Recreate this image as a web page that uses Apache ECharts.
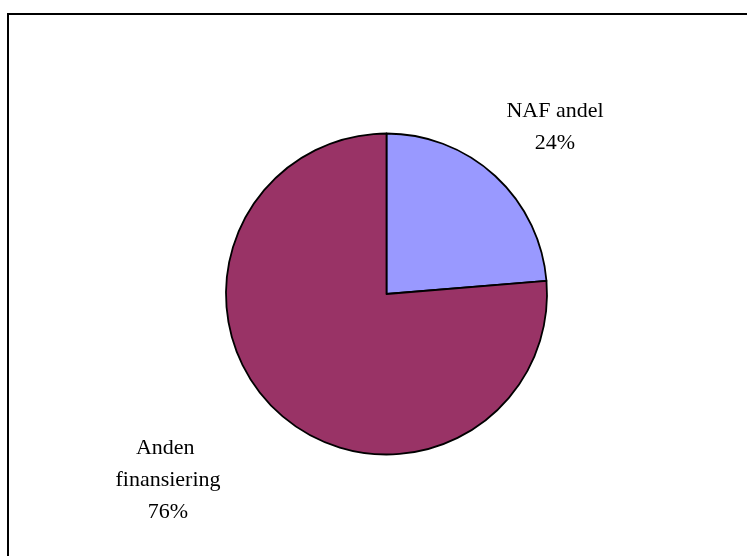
<!DOCTYPE html>
<html>
<head>
<meta charset="utf-8">
<script src="https://cdn.jsdelivr.net/npm/echarts@6/dist/echarts.min.js"></script>
<style>
  html, body { margin: 0; padding: 0; background: #fff; }
  #frame { position: absolute; left: 7px; top: 13px; width: 760px; height: 560px;
           border-top: 2px solid #000; border-left: 2px solid #000; }
  #chart { position: absolute; left: 0; top: 0; width: 747px; height: 556px; }
</style>
</head>
<body>
<div id="frame"></div>
<div id="chart"></div>
<script>
const categories = ['NAF andel', 'Anden finansiering'];
const values = [23.7, 76.3];
const colors = ['#9999FF', '#993366'];
const labelSpots = [[555, 127], [168, 480]];

const chart = echarts.init(document.getElementById('chart'), null, { renderer: 'canvas' });
chart.setOption({
  animation: false,
  backgroundColor: 'transparent',
  series: [{
    type: 'pie',
    center: [386.5, 294],
    radius: 160.5,
    startAngle: 90,
    clockwise: true,
    percentPrecision: 0,
    avoidLabelOverlap: false,
    data: categories.map((c, i) => ({ name: c, value: values[i], itemStyle: { color: colors[i] } })),
    itemStyle: { borderColor: '#000', borderWidth: 1.8 },
    emphasis: { disabled: true },
    label: {
      show: true,
      position: 'outside',
      formatter: '{b}\n{d}%',
      fontFamily: 'Liberation Serif',
      fontSize: 22,
      lineHeight: 32,
      color: '#000',
      width: 120,
      overflow: 'break',
      align: 'center'
    },
    labelLine: { show: false },
    labelLayout: function (p) {
      const s = labelSpots[p.dataIndex];
      return { x: s[0], y: s[1], align: 'center', verticalAlign: 'middle' };
    }
  }]
});
</script>
</body>
</html>
